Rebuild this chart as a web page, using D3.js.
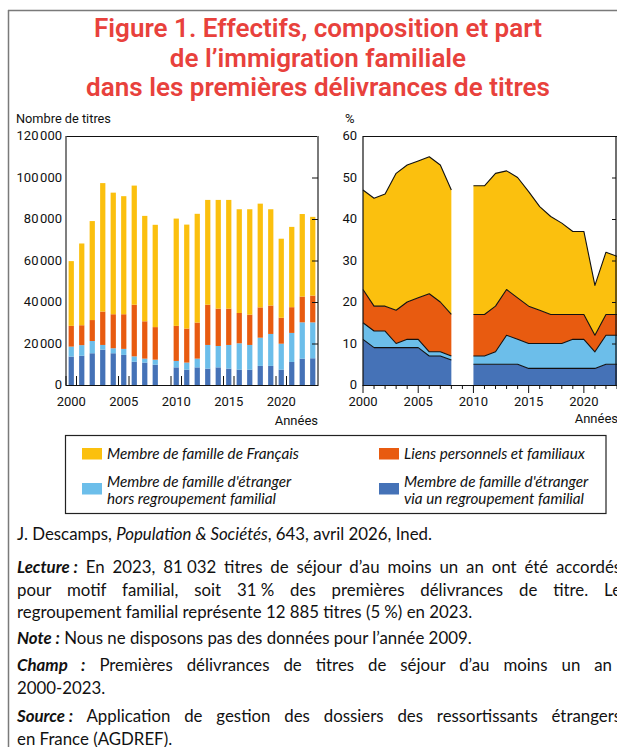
<!DOCTYPE html>
<html><head><meta charset="utf-8">
<script src="https://cdn.jsdelivr.net/npm/d3@7"></script>
<style>html,body{margin:0;padding:0;background:#fff;}svg{display:block;}</style>
</head><body>
<script>
// ---------- DATA ----------
const years = [2000,2001,2002,2003,2004,2005,2006,2007,2008,2010,2011,2012,2013,2014,2015,2016,2017,2018,2019,2020,2021,2022,2023];
// Nombre de titres (left chart)
const regroupement     = [13700,14100,15300,17000,15300,14500,11200,10800,9800, 8500,7400,8500,7900,8500,7900,7400,7400,9200,9200,7400,11100,12700,12885];
const horsRegroupement = [4800,5100,5900,2300,2400,2900,2600,1900,2400, 3100,3400,4200,11400,10300,11400,12700,11900,13600,15400,12500,14000,17500,17300];
const liensPersonnels  = [10000,9600,10100,16100,16400,16700,24900,18000,15700, 16900,16400,17400,19400,18000,17500,14600,14600,14600,13700,12500,12400,12400,12900];
const membreFrancais   = [31200,39400,47700,61900,58600,56900,57400,50800,49300, 51700,50100,52400,50500,52400,52400,50000,50800,50000,46400,38100,38700,39800,37950];
// Part en % (right chart)
const pctRegroupement  = [11,9,9,9,9,9,7,7,6, 5,5,5,5,5,4,4,4,4,4,4,4,5,5];
const pctHors          = [4,4,4,1,2,2,1,1,1, 2,2,3,7,6,6,6,6,6,7,7,4,7,7];
const pctLiens         = [8,6,6,8,9,10,14,12,10, 10,10,11,11,10,9,8,7,7,6,6,4,5,5];
const pctFrancais      = [24,26,27,33,33,33,33,33,30, 31,31,32,28.6,29,27.6,25,23.6,22,20,20,12,15,14];

const keys = ["regroupement","hors","liens","francais"];
const colors = {francais:"#FBC00E", liens:"#E85B10", hors:"#6CBEEA", regroupement:"#4572B7"};
const legendLabels = {
  francais:["Membre de famille de Français"],
  liens:["Liens personnels et familiaux"],
  hors:["Membre de famille d'étranger","hors regroupement familial"],
  regroupement:["Membre de famille d'étranger","via un regroupement familial"]
};
const yTicksLeft = [0,20000,40000,60000,80000,100000,120000];
const yTickLabelsLeft = ["0","20\u202F000","40\u202F000","60\u202F000","80\u202F000","100\u202F000","120\u202F000"];
const yTicksRight = [0,10,20,30,40,50,60];
const yTickLabelsRight = ["0","10","20","30","40","50","60"];
const xLabelYears = [2000,2005,2010,2015,2020];
const titleLines = ["Figure 1. Effectifs, composition et part","de l\u2019immigration familiale","dans les premières délivrances de titres"];

// ---------- FONTS ----------
function hasFont(name){
  const ctx=document.createElement('canvas').getContext('2d');
  const s='mmmmmmmmmmlli1WwQq0123456789abcdef';
  ctx.font='40px monospace'; const a=ctx.measureText(s).width;
  ctx.font='40px "'+name+'", monospace'; const b=ctx.measureText(s).width;
  ctx.font='40px "'+name+'", serif'; const c=ctx.measureText(s).width;
  ctx.font='40px serif'; const d=ctx.measureText(s).width;
  return a!==b && c!==d;
}
const narrow = hasFont("Liberation Sans Narrow");
const COND = narrow ? '"Liberation Sans Narrow", Roboto, sans-serif' : 'Roboto, sans-serif';
const AXFS = narrow ? 15 : 13;
const BODY = 'Lato, "Noto Sans", sans-serif';

const W=617,H=747;
const svg=d3.select("body").append("svg").attr("width",W).attr("height",H);
svg.append("rect").attr("width",W).attr("height",H).attr("fill","#fff");

function fitSize(sel,target){const w=sel.node().getComputedTextLength();return (+sel.attr("font-size"))*target/w;}

// outer frame
svg.append("line").attr("x1",8.5).attr("x2",8.5).attr("y1",10).attr("y2",H).attr("stroke","#7a7a7a").attr("stroke-width",1.5);
svg.append("line").attr("x1",8).attr("x2",W).attr("y1",10.5).attr("y2",10.5).attr("stroke","#7a7a7a").attr("stroke-width",1.5);

// title
const titleFont = narrow ? '"Liberation Sans Narrow", sans-serif' : 'Roboto, sans-serif';
const tBase=[37,66.5,96];
const tSel = titleLines.map((t,i)=>svg.append("text").attr("x",318).attr("y",tBase[i]).attr("text-anchor","middle")
  .attr("font-family",titleFont).attr("font-weight",narrow?"bold":"600").attr("font-size",24).attr("fill","#E8413C").text(t));
const tfs = fitSize(tSel[2],464);
tSel.forEach(s=>s.attr("font-size",tfs));

// ---------- LEFT CHART ----------
const rows = years.map((y,i)=>({year:y,regroupement:regroupement[i],hors:horsRegroupement[i],liens:liensPersonnels[i],francais:membreFrancais[i]}));
const xL = d3.scaleBand().domain(d3.range(2000,2024)).range([66,318]).paddingInner(0.5).paddingOuter(0.25);
const yL = d3.scaleLinear().domain([0,120000]).range([385,136]);
const stackL = d3.stack().keys(keys)(rows);
const gL = svg.append("g");
gL.selectAll("g.s").data(stackL).join("g").attr("fill",d=>colors[d.key])
  .selectAll("rect").data(d=>d).join("rect")
  .attr("x",d=>xL(d.data.year)).attr("width",xL.bandwidth())
  .attr("y",d=>yL(d[1])).attr("height",d=>yL(d[0])-yL(d[1]));

const step = xL.step(), bw = xL.bandwidth();
// frame
gL.append("line").attr("x1",66).attr("x2",318).attr("y1",136.5).attr("y2",136.5).attr("stroke","#111").attr("stroke-width",1);
gL.append("line").attr("x1",318).attr("x2",318).attr("y1",136).attr("y2",386).attr("stroke","#7a7a7a").attr("stroke-width",2);
gL.append("line").attr("x1",66).attr("x2",66).attr("y1",136).attr("y2",386).attr("stroke","#555").attr("stroke-width",1.5);
gL.append("line").attr("x1",66).attr("x2",318).attr("y1",385.5).attr("y2",385.5).attr("stroke","#111").attr("stroke-width",1.2);
// right ticks
gL.selectAll("line.rt").data(yTicksLeft.filter(v=>v>0&&v<120000)).join("line")
  .attr("x1",312).attr("x2",318).attr("y1",d=>yL(d)+0.5).attr("y2",d=>yL(d)+0.5).attr("stroke","#111");
// x tick pairs
xLabelYears.forEach(y=>{
  const a = xL(y)-(step-bw)/2, b = xL(y)+bw+(step-bw)/2;
  [a,b].forEach(x=>gL.append("line").attr("x1",x).attr("x2",x).attr("y1",376).attr("y2",385).attr("stroke","#111").attr("stroke-width",1));
});
// y labels
gL.selectAll("text.yl").data(yTicksLeft).join("text")
  .attr("x",62).attr("y",(d)=>yL(d)).attr("dy","0.33em").attr("text-anchor","end")
  .attr("font-family",COND).attr("font-size",AXFS).attr("fill","#111")
  .text((d,i)=>yTickLabelsLeft[i]);
gL.selectAll("text.xl").data(xLabelYears).join("text")
  .attr("x",d=>xL(d)+bw/2).attr("y",406).attr("text-anchor","middle")
  .attr("font-family",COND).attr("font-size",AXFS).attr("fill","#111").text(d=>d);
const nt = gL.append("text").attr("x",16).attr("y",123).attr("font-family",COND).attr("font-size",AXFS).attr("fill","#111").text("Nombre de titres");
nt.attr("font-size",fitSize(nt,95));
gL.append("text").attr("x",318).attr("y",425).attr("text-anchor","end").attr("font-family",COND).attr("font-size",AXFS).attr("fill","#111").text("Années");

// ---------- RIGHT CHART ----------
const prow = years.map((y,i)=>({year:y,regroupement:pctRegroupement[i],hors:pctHors[i],liens:pctLiens[i],francais:pctFrancais[i]}));
const xR = d3.scaleLinear().domain([2000,2023]).range([363,617]);
const yR = d3.scaleLinear().domain([0,60]).range([385,136]);
const stackR = d3.stack().keys(keys)(prow);
const gR = svg.append("g");
const area = d3.area().x(d=>xR(d.data.year)).y0(d=>yR(d[0])).y1(d=>yR(d[1]));
const lineTop = d3.line().x(d=>xR(d.data.year)).y(d=>yR(d[1]));
const segments = [[2000,2008],[2010,2023]];
stackR.forEach(s=>{
  segments.forEach(([a,b])=>{
    const pts = s.filter(d=>d.data.year>=a && d.data.year<=b);
    gR.append("path").attr("d",area(pts)).attr("fill",colors[s.key]);
  });
});
stackR.forEach(s=>{
  segments.forEach(([a,b])=>{
    const pts = s.filter(d=>d.data.year>=a && d.data.year<=b);
    gR.append("path").attr("d",lineTop(pts)).attr("fill","none").attr("stroke","#111").attr("stroke-width",1.1).attr("stroke-linejoin","round");
  });
});
// frame
gR.append("line").attr("x1",363).attr("x2",617).attr("y1",136.5).attr("y2",136.5).attr("stroke","#111");
gR.append("line").attr("x1",616).attr("x2",616).attr("y1",136).attr("y2",386).attr("stroke","#111").attr("stroke-width",1.2);
gR.append("line").attr("x1",363).attr("x2",363).attr("y1",136).attr("y2",386).attr("stroke","#111").attr("stroke-width",1.2);
gR.append("line").attr("x1",363).attr("x2",617).attr("y1",385.5).attr("y2",385.5).attr("stroke","#111").attr("stroke-width",1.2);
gR.selectAll("line.rt").data(yTicksRight.filter(v=>v>0&&v<60)).join("line")
  .attr("x1",612).attr("x2",616).attr("y1",d=>yR(d)+0.5).attr("y2",d=>yR(d)+0.5).attr("stroke","#111");
gR.selectAll("line.xt").data(d3.range(2000,2024)).join("line")
  .attr("x1",d=>xR(d)).attr("x2",d=>xR(d)).attr("y1",385).attr("y2",d=>d%5===0?393:389).attr("stroke","#111").attr("stroke-width",1);
gR.selectAll("text.yl").data(yTicksRight).join("text")
  .attr("x",357).attr("y",d=>yR(d)).attr("dy","0.33em").attr("text-anchor","end")
  .attr("font-family",COND).attr("font-size",AXFS).attr("fill","#111").text((d,i)=>yTickLabelsRight[i]);
gR.selectAll("text.xl").data(xLabelYears).join("text")
  .attr("x",d=>xR(d)).attr("y",406).attr("text-anchor","middle")
  .attr("font-family",COND).attr("font-size",AXFS).attr("fill","#111").text(d=>d);
gR.append("text").attr("x",345).attr("y",123).attr("font-family",COND).attr("font-size",AXFS).attr("fill","#111").text("%");
gR.append("text").attr("x",618).attr("y",423).attr("text-anchor","end").attr("font-family",COND).attr("font-size",AXFS).attr("fill","#111").text("Années");

// ---------- LEGEND ----------
const gLeg = svg.append("g");
gLeg.append("rect").attr("x",65.5).attr("y",435.5).attr("width",540.5).attr("height",78).attr("fill","none").attr("stroke","#222").attr("stroke-width",1.2);
const legPos = {francais:[82,448,459], liens:[379,448,459], hors:[82,483,487], regroupement:[379,483,487]};
const legTexts=[];
keys.slice().reverse().forEach(k=>{
  const [x,sy,by]=legPos[k];
  gLeg.append("rect").attr("x",x).attr("y",sy).attr("width",20).attr("height",11.5).attr("fill",colors[k]);
  legendLabels[k].forEach((t,i)=>{
    legTexts.push(gLeg.append("text").attr("x",x+25).attr("y",by+i*17).attr("font-family",BODY).attr("font-style","italic")
      .attr("font-size",15).attr("fill","#111").text(t));
  });
});
const lfs = fitSize(legTexts[0],192);
legTexts.forEach(s=>s.attr("font-size",lfs));

// ---------- NOTES ----------
const gN = svg.append("g").attr("font-family",BODY).attr("fill","#111");
function noteLine(y,parts,justify){
  const t = gN.append("text").attr("x",17).attr("y",y).attr("font-size",15);
  parts.forEach(p=>{
    const ts=t.append("tspan").text(p.t);
    if(p.b) ts.attr("font-weight","bold");
    if(p.i) ts.attr("font-style","italic");
  });
  if(justify) t.attr("data-j",justify);
  return t;
}
const nl = [
  noteLine(540,[{t:"J. Descamps, "},{t:"Population & Sociétés",i:1},{t:", 643, avril 2026, Ined."}]),
  noteLine(573,[{t:"Lecture\u202F:",b:1,i:1},{t:" En 2023, 81\u202F032 titres de séjour d\u2019au moins un an ont été accordés"}],604),
  noteLine(595.5,[{t:"pour motif familial, soit 31\u202F% des premières délivrances de titre. Le"}],604),
  noteLine(618,[{t:"regroupement familial représente 12\u202F885 titres (5\u202F%) en 2023."}]),
  noteLine(644,[{t:"Note\u202F:",b:1,i:1},{t:" Nous ne disposons pas des données pour l\u2019année 2009."}]),
  noteLine(671,[{t:"Champ :",b:1,i:1},{t:" Premières délivrances de titres de séjour d\u2019au moins un an"}],595),
  noteLine(694,[{t:"2000-2023."}]),
  noteLine(722,[{t:"Source\u202F:",b:1,i:1},{t:" Application de gestion des dossiers des ressortissants étrangers"}],604),
  noteLine(745,[{t:"en France (AGDREF)."}])
];
const nfs = fitSize(nl[4],455);
nl.forEach(s=>s.attr("font-size",nfs));
nl.forEach(s=>{
  const j=s.attr("data-j");
  if(j){
    const natural = s.node().getComputedTextLength();
    const nSp = (s.text().match(/ /g)||[]).length;
    const ws = Math.max(-2,(+j - natural)/nSp);
    s.attr("word-spacing",ws.toFixed(2));
  }
});
</script>
</body></html>
